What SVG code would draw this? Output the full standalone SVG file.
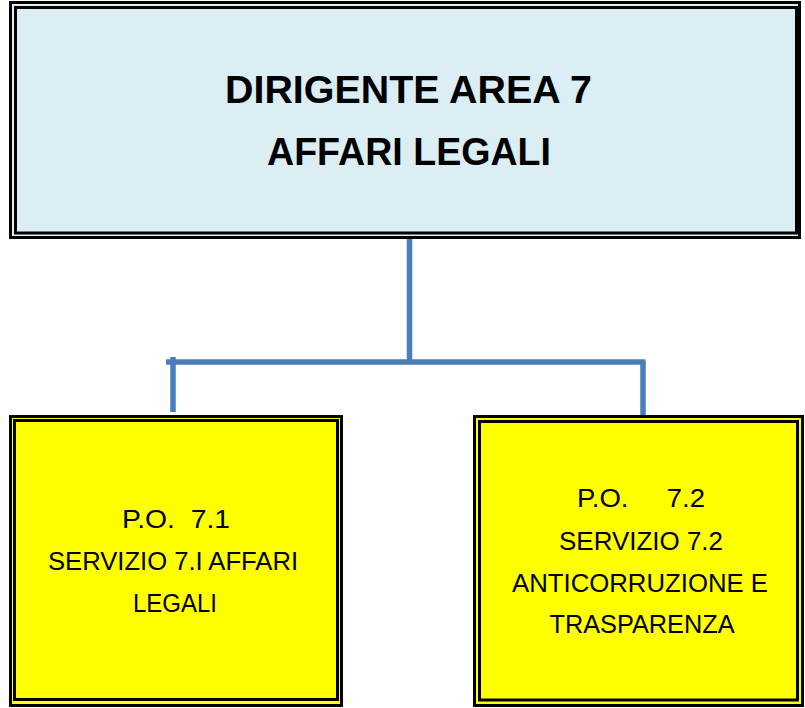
<svg xmlns="http://www.w3.org/2000/svg" width="805" height="708" viewBox="0 0 805 708">
  <style>
    .frame { fill: none; stroke: #000; stroke-width: 3; }
    .conn { fill: none; stroke: #4A7EBB; stroke-width: 5.5; stroke-linecap: butt; }
    .title { font-family: "Liberation Sans", Arial, sans-serif; font-weight: bold; font-size: 39.5px; fill: #000; text-anchor: middle; }
    .lbl { font-family: "Liberation Sans", Arial, sans-serif; font-size: 25px; fill: #000; text-anchor: middle; white-space: pre; }
  </style>
  <rect width="805" height="708" fill="#fff"/>

  <g id="connectors">
    <line class="conn" x1="409.5" y1="235" x2="409.5" y2="362"/>
    <line class="conn" x1="166" y1="362" x2="645.5" y2="362"/>
    <line class="conn" x1="173" y1="357" x2="173" y2="412"/>
    <line class="conn" x1="643" y1="362" x2="643" y2="416"/>
  </g>

  <g id="node-dirigente">
    <rect x="10.5" y="2.5" width="789" height="235" fill="#DAEEF3" stroke="#000" stroke-width="3"/>
    <rect class="frame" x="15.5" y="7.5" width="781" height="225.5"/>
    <text class="title" x="408.5" y="103" textLength="367" lengthAdjust="spacingAndGlyphs">DIRIGENTE AREA 7</text>
    <text class="title" x="409" y="165" textLength="284" lengthAdjust="spacingAndGlyphs">AFFARI LEGALI</text>
  </g>

  <g id="node-po71">
    <rect x="10.5" y="416.5" width="331" height="289" fill="#FFFF00" stroke="#000" stroke-width="3"/>
    <rect class="frame" x="14.5" y="420.5" width="323" height="279"/>
    <text class="lbl" x="176" y="528" textLength="108" lengthAdjust="spacingAndGlyphs">P.O.  7.1</text>
    <text class="lbl" x="173" y="570" textLength="250" lengthAdjust="spacingAndGlyphs">SERVIZIO 7.I AFFARI</text>
    <text class="lbl" x="175" y="612" textLength="84" lengthAdjust="spacingAndGlyphs">LEGALI</text>
  </g>

  <g id="node-po72">
    <rect x="474.5" y="416.5" width="328" height="289" fill="#FFFF00" stroke="#000" stroke-width="3"/>
    <rect class="frame" x="479.5" y="421.5" width="318" height="278.5"/>
    <text class="lbl" x="641" y="507" textLength="128" lengthAdjust="spacingAndGlyphs">P.O.     7.2</text>
    <text class="lbl" x="641" y="550" textLength="164" lengthAdjust="spacingAndGlyphs">SERVIZIO 7.2</text>
    <text class="lbl" x="640" y="592" textLength="256" lengthAdjust="spacingAndGlyphs">ANTICORRUZIONE E</text>
    <text class="lbl" x="642" y="633" textLength="185" lengthAdjust="spacingAndGlyphs">TRASPARENZA</text>
  </g>
</svg>
